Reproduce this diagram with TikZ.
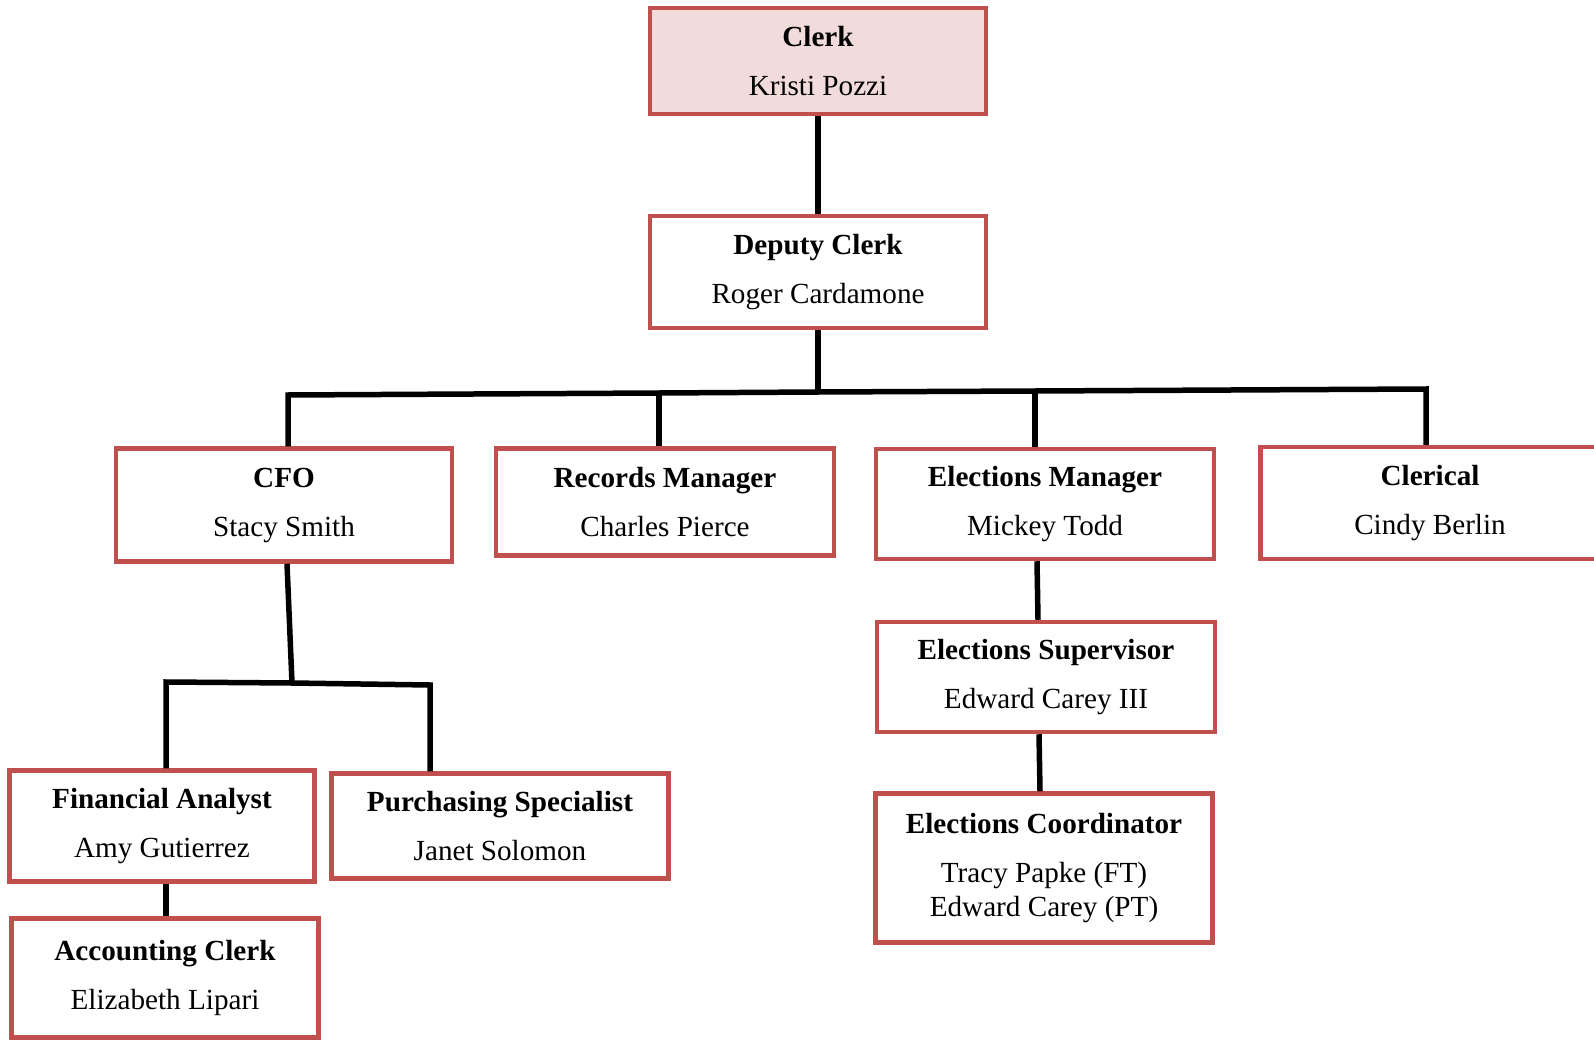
\documentclass[tikz,border=0pt]{standalone}
\usepackage{fontspec}
\setmainfont{Liberation Serif}
\definecolor{boxred}{HTML}{C0504D}
\definecolor{boxpink}{HTML}{F2DCDB}

\tikzset{
	post/.style={draw=boxred,
		line width=0.09cm,
		fill=white,
		align=center,
		inner sep=0pt,
		minimum width=6.72cm,
		minimum height=2.2cm,
		font=\fontsize{16.6}{19.5}\selectfont},
	link/.style={line width=0.11cm, black}
}

\begin{document}
\begin{tikzpicture}[x=0.02cm,y=-0.02cm]
		\useasboundingbox (0,0) rectangle (1594,1040);
		% connectors first, boxes on top
		\coordinate (bar) at (818,392);
		\coordinate (jcfo) at (288,395);
		\coordinate (jrec) at (659,393);
		\coordinate (jele) at (1035,391);
		\coordinate (jcle) at (1426,389);
		\coordinate (fork) at (292,683);
		\coordinate (jana) at (166,682);
		\coordinate (jpur) at (430,685);

		% Clerk
		\node[post,
		fill=boxpink,
		minimum height=2.12cm] (clerk) at (818,61)
		{\textbf{Clerk}\\[8.4pt]Kristi Pozzi};
		% Deputy Clerk
		\node[post,
		minimum height=2.24cm] (deputy) at (818,272)
		{\textbf{Deputy Clerk}\\[8.4pt]Roger Cardamone};
		% CFO
		\node[post,
		minimum height=2.26cm] (cfo) at (284,505)
		{\textbf{CFO}\\[8.4pt]Stacy Smith};
		% Records Manager
		\node[post,
		minimum width=6.76cm,
		minimum height=2.14cm] (records) at (665,502)
		{\textbf{Records Manager}\\[8.4pt]Charles Pierce};
		% Elections Manager
		\node[post,
		minimum width=6.76cm] (elections) at (1045,504)
		{\textbf{Elections Manager}\\[8.4pt]Mickey Todd};
		% Clerical
		\node[post,
		minimum width=6.78cm,
		minimum height=2.24cm] (clerical) at (1430,503)
		{\textbf{Clerical}\\[8.4pt]Cindy Berlin};
		% Elections Supervisor
		\node[post,
		minimum width=6.76cm] (supervisor) at (1046,677)
		{\textbf{Elections Supervisor}\\[8.4pt]Edward Carey III};
		% Elections Coordinator
		\node[post,
		minimum width=6.74cm,
		minimum height=2.98cm] (coordinator) at (1044,868)
		{\textbf{Elections Coordinator}\\[8.4pt]Tracy Papke (FT)\\Edward Carey (PT)};
		% Financial Analyst
		\node[post,
		minimum width=6.1cm,
		minimum height=2.22cm] (analyst) at (162,826)
		{\textbf{Financial Analyst}\\[8.4pt]Amy Gutierrez};
		% Purchasing Specialist
		\node[post,
		minimum width=6.74cm,
		minimum height=2.1cm] (purchasing) at (500,826)
		{\textbf{Purchasing Specialist}\\[8.4pt]Janet Solomon};
		% Accounting Clerk
		\node[post,
		minimum width=6.14cm,
		minimum height=2.38cm] (accounting) at (165,978)
		{\textbf{Accounting Clerk}\\[8.4pt]Elizabeth Lipari};

		% top links
		\draw[link] (clerk.south) -- (deputy.north);
		\draw[link] (deputy.south) -- (bar);
		% bar across the managers
		\draw[link] (jcfo |- cfo.north) -- (jcfo) -- (jrec) -- (bar) -- (jele) -- (jcle) -- (jcle |- clerical.north);
		\draw[link] (jrec) -- (jrec |- records.north);
		\draw[link] (jele) -- (jele |- elections.north);
		% elections branch
		\draw[link] (elections.south -| 1037,0) -- (supervisor.north -| 1038,0);
		\draw[link] (supervisor.south -| 1039,0) -- (coordinator.north -| 1040,0);
		% finance branch
		\draw[link] (cfo.south -| 287,0) -- (fork);
		\draw[link] (jana |- analyst.north) -- (jana) -- (fork) -- (jpur) -- (jpur |- purchasing.north);
		\draw[link] (analyst.south -| 166,0) -- (accounting.north -| 166,0);
\end{tikzpicture}
\end{document}
